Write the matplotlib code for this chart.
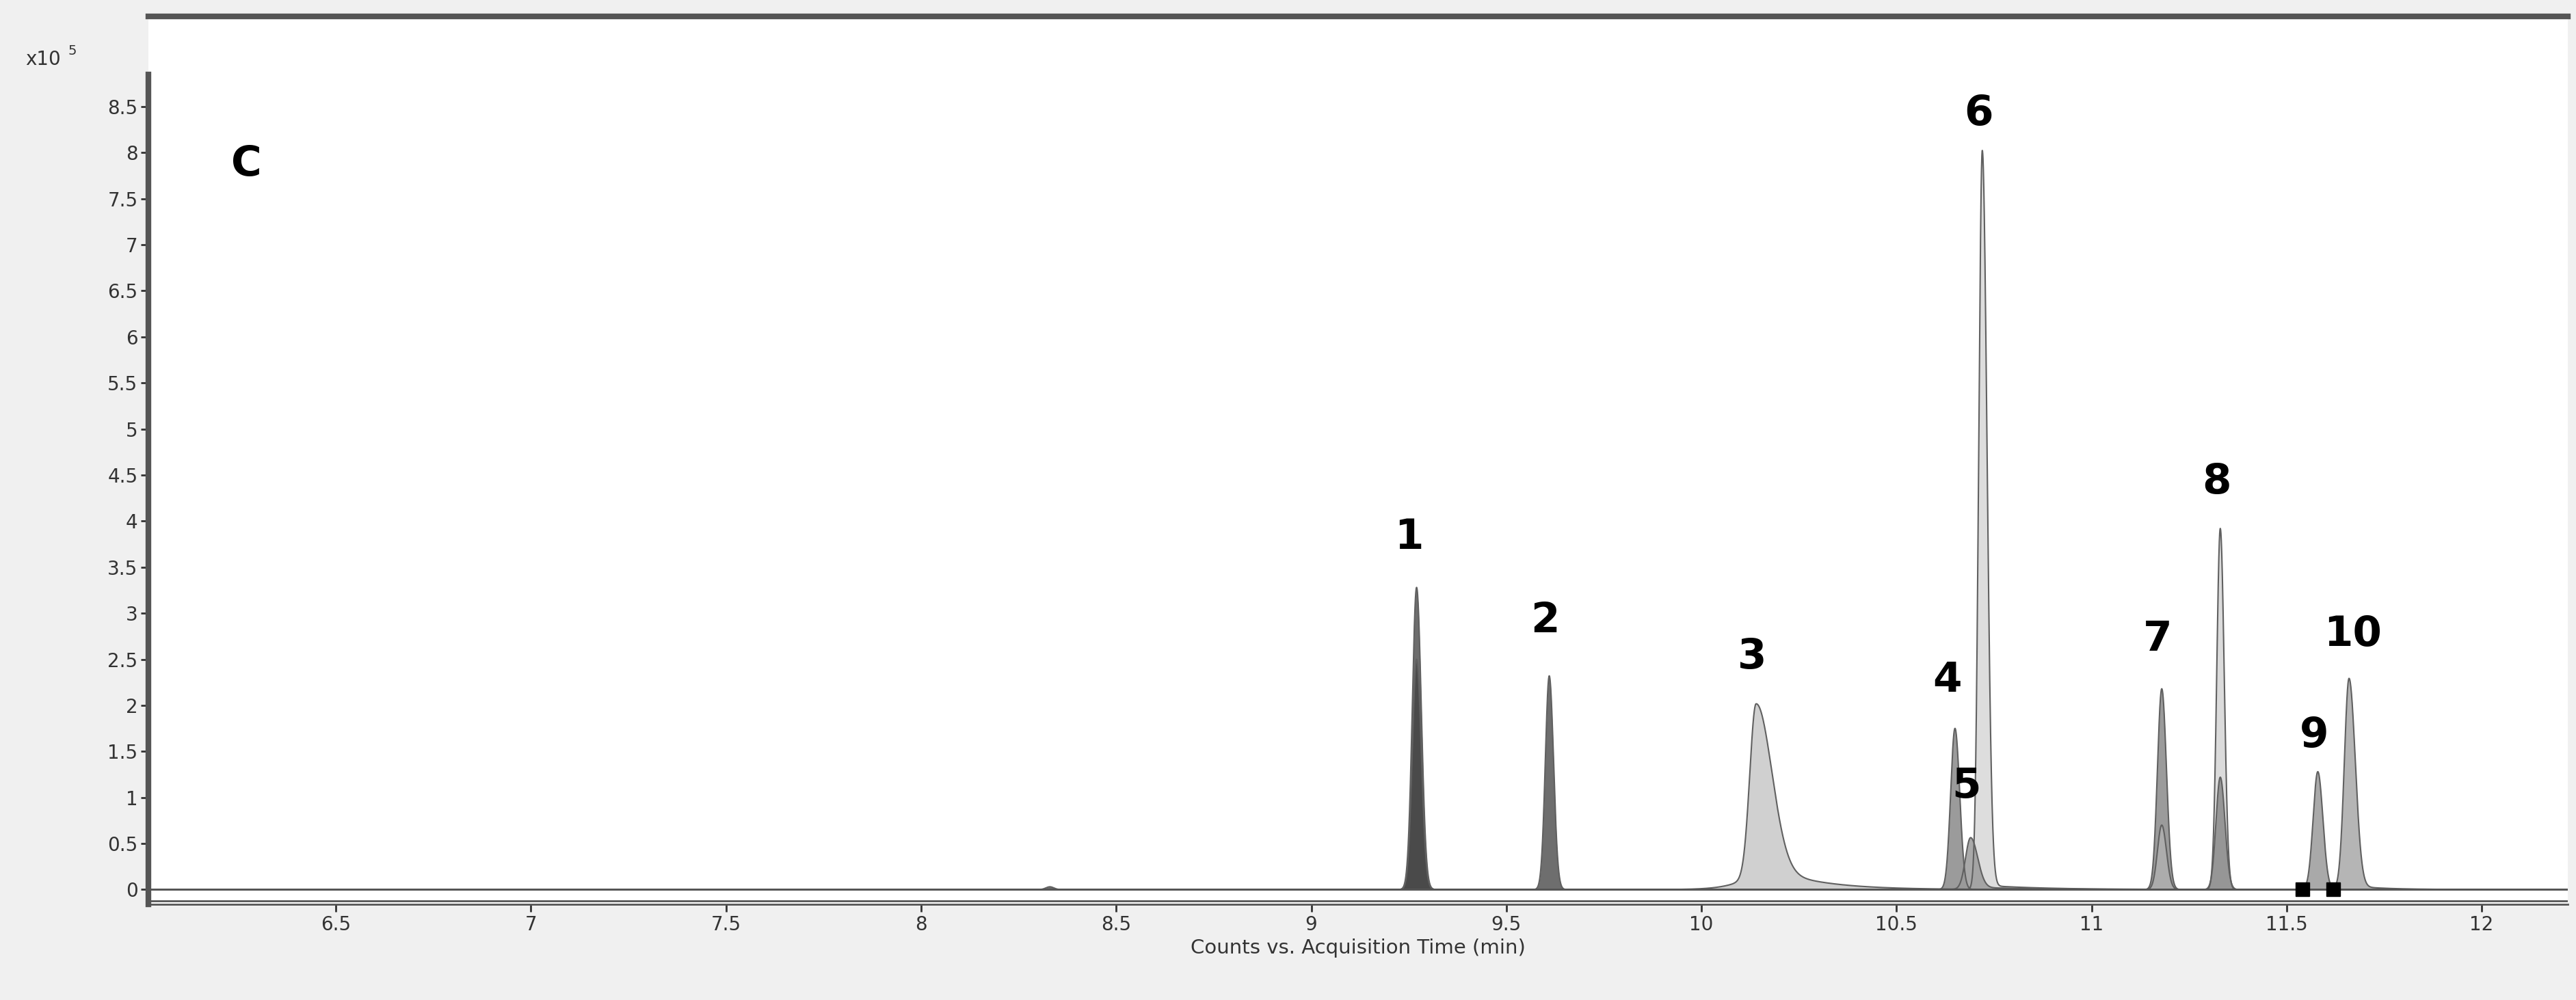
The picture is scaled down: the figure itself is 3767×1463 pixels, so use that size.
import numpy as np
import matplotlib.pyplot as plt

# peak parameters (x10^5 counts)
peak_rt = [9.27, 9.27, 9.61, 10.14, 10.65, 10.69, 10.72, 11.18, 11.18, 11.33, 11.33, 11.58, 11.66, 8.33]
peak_h = [3.28, 2.50, 2.32, 1.85, 1.75, 0.55, 8.00, 2.18, 0.70, 3.92, 1.22, 1.28, 2.27, 0.03]
peak_wl = [0.011, 0.011, 0.010, 0.016, 0.011, 0.013, 0.009, 0.011, 0.011, 0.009, 0.011, 0.012, 0.012, 0.01]
peak_wr = [0.012, 0.012, 0.011, 0.040, 0.012, 0.018, 0.012, 0.012, 0.012, 0.010, 0.012, 0.013, 0.016, 0.01]
peak_tail_amp = [0.0, 0.0, 0.0, 0.18, 0.0, 0.05, 0.006, 0.0, 0.0, 0.0, 0.0, 0.0, 0.02, 0.0]
peak_tau = [0.1, 0.1, 0.1, 0.12, 0.1, 0.15, 0.15, 0.1, 0.1, 0.1, 0.1, 0.1, 0.08, 0.1]
peak_col = ['#555555', '#444444', '#555555', '#c8c8c8', '#8a8a8a', '#9a9a9a', '#d8d8d8',
            '#8a8a8a', '#b0b0b0', '#d5d5d5', '#8a8a8a', '#9a9a9a', '#a8a8a8', '#555555']

labels = ['1', '2', '3', '4', '5', '6', '7', '8', '9', '10']
label_x = [9.25, 9.60, 10.13, 10.63, 10.68, 10.71, 11.17, 11.32, 11.57, 11.67]
label_y = [3.60, 2.70, 2.30, 2.05, 0.90, 8.20, 2.50, 4.20, 1.45, 2.55]

fig = plt.figure(figsize=(37.67, 14.63), dpi=100, facecolor='#f0f0f0')
ax = fig.add_axes([0.0577, 0.0957, 0.939, 0.888])

x = np.linspace(6.0, 12.3, 20000)
order = sorted(range(len(peak_h)), key=lambda i: -peak_h[i])
for i in order:
    d = x - peak_rt[i]
    w = np.where(d < 0, peak_wl[i], peak_wr[i])
    g = np.exp(-0.5 * (d / w) ** 2)
    step = 1 / (1 + np.exp(-d / peak_wr[i]))
    tail = peak_tail_amp[i] * np.exp(-np.clip(d, 0, None) / peak_tau[i]) * step
    y = peak_h[i] * (g + tail)
    ax.fill_between(x, 0, y, color=peak_col[i], alpha=0.85, lw=0)
    ax.plot(x, y, color='#606060', lw=1.5)

ax.axhline(0, color='#555555', lw=2)
ax.axhline(-0.12, color='#555555', lw=2)
ax.plot([11.54, 11.62], [0, 0], 's', color='black', ms=14, zorder=5)

for lab, lx, ly in zip(labels, label_x, label_y):
    ax.text(lx, ly, lab, fontsize=44, fontweight='bold', ha='center', va='bottom')
ax.text(6.27, 7.65, 'C', fontsize=44, fontweight='bold', ha='center', va='bottom')

ax.set_xlim(6.02, 12.22)
ax.set_ylim(-0.16, 9.48)
ax.set_yticks(np.arange(0, 8.51, 0.5))
ax.set_yticklabels(['0', '0.5', '1', '1.5', '2', '2.5', '3', '3.5', '4', '4.5', '5',
                    '5.5', '6', '6.5', '7', '7.5', '8', '8.5'])
ax.set_xticks(np.arange(6.5, 12.01, 0.5))
ax.set_xticklabels(['6.5', '7', '7.5', '8', '8.5', '9', '9.5', '10', '10.5', '11',
                    '11.5', '12'])
ax.tick_params(labelsize=20, colors='#333333', length=8, width=2, direction='out')
for s in ['top', 'left']:
    ax.spines[s].set_linewidth(6)
    ax.spines[s].set_color('#555555')
ax.spines['left'].set_bounds(-0.16, 8.85)
ax.spines['right'].set_visible(False)
ax.spines['bottom'].set_linewidth(2)
ax.spines['bottom'].set_color('#555555')
ax.set_xlabel('Counts vs. Acquisition Time (min)', fontsize=21, color='#333333', labelpad=4)
fig.text(0.010, 0.935, 'x10', fontsize=20, color='#333333')
fig.text(0.0265, 0.945, '5', fontsize=14, color='#333333')

fig.savefig('out.png', dpi=100, facecolor=fig.get_facecolor())
